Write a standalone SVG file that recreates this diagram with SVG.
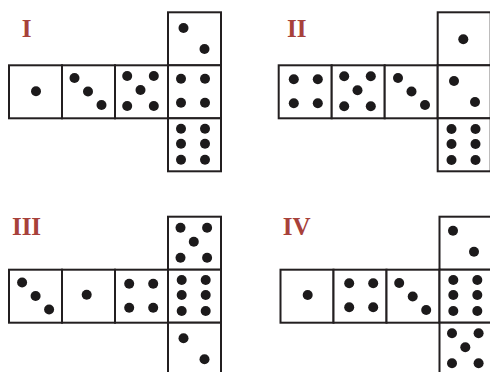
<svg xmlns="http://www.w3.org/2000/svg" xmlns:xlink="http://www.w3.org/1999/xlink" width="490" height="372" viewBox="0 0 490 372">
<style>
.face{fill:#fff;stroke:#231f20;stroke-width:2}
.dot{fill:#1c1a1b}
.lbl{font-family:"Liberation Serif","Times New Roman",serif;font-weight:bold;font-size:25px;fill:#a7413a;text-anchor:middle}
</style>
<defs>
<g id="f1"><circle class="dot" cx="0" cy="0" r="5"/></g>
<g id="f2"><circle class="dot" cx="-10.5" cy="-10.5" r="5"/><circle class="dot" cx="10.5" cy="10.5" r="5"/></g>
<g id="f3"><circle class="dot" cx="-13.5" cy="-13.5" r="5"/><circle class="dot" cx="0" cy="0" r="5"/><circle class="dot" cx="13.5" cy="13.5" r="5"/></g>
<g id="f4"><circle class="dot" cx="-12" cy="-12" r="5"/><circle class="dot" cx="12" cy="-12" r="5"/><circle class="dot" cx="-12" cy="12" r="5"/><circle class="dot" cx="12" cy="12" r="5"/></g>
<g id="f5"><circle class="dot" cx="-13.3" cy="-15" r="5"/><circle class="dot" cx="13.3" cy="-15" r="5"/><circle class="dot" cx="0" cy="-1" r="5"/><circle class="dot" cx="-13.3" cy="15" r="5"/><circle class="dot" cx="13.3" cy="15" r="5"/></g>
<g id="f6"><circle class="dot" cx="-12" cy="-15.5" r="5"/><circle class="dot" cx="12" cy="-15.5" r="5"/><circle class="dot" cx="-12" cy="-0.5" r="5"/><circle class="dot" cx="12" cy="-0.5" r="5"/><circle class="dot" cx="-12" cy="15.5" r="5"/><circle class="dot" cx="12" cy="15.5" r="5"/></g>
</defs>

<g id="net-I">
<text class="lbl" x="26.7" y="36.7">I</text>
<g id="I-top"><rect class="face" x="168" y="12.3" width="53" height="53"/><use xlink:href="#f2" x="194" y="38.5"/></g>
<g id="I-c0"><rect class="face" x="9" y="65.3" width="53" height="53"/><use xlink:href="#f1" x="36" y="91.2"/></g>
<g id="I-c1"><rect class="face" x="62" y="65.3" width="53" height="53"/><use xlink:href="#f3" x="88" y="91.5"/></g>
<g id="I-c2"><rect class="face" x="115" y="65.3" width="53" height="53"/><use xlink:href="#f5" x="140.5" y="91"/></g>
<g id="I-c3"><rect class="face" x="168" y="65.3" width="53" height="53"/><use xlink:href="#f4" x="193" y="90.7"/></g>
<g id="I-bottom"><rect class="face" x="168" y="118.3" width="53" height="53"/><use xlink:href="#f6" x="193" y="144.3"/></g>
</g>

<g id="net-II">
<text class="lbl" x="296.7" y="36.7">II</text>
<g id="II-top"><rect class="face" x="437.7" y="12.3" width="53" height="53"/><use xlink:href="#f1" x="463.3" y="39.3"/></g>
<g id="II-c0"><rect class="face" x="278.7" y="65.3" width="53" height="53"/><use xlink:href="#f4" x="305.8" y="91.3"/></g>
<g id="II-c1"><rect class="face" x="331.7" y="65.3" width="53" height="53"/><use xlink:href="#f5" x="357.5" y="91.2"/></g>
<g id="II-c2"><rect class="face" x="384.7" y="65.3" width="53" height="53"/><use xlink:href="#f3" x="411.5" y="91.5"/></g>
<g id="II-c3"><rect class="face" x="437.7" y="65.3" width="53" height="53"/><use xlink:href="#f2" x="464.5" y="91.5"/></g>
<g id="II-bottom"><rect class="face" x="437.7" y="118.3" width="53" height="53"/><use xlink:href="#f6" x="463.5" y="144.5"/></g>
</g>

<g id="net-III">
<text class="lbl" x="26.5" y="234.7">III</text>
<g id="III-top"><rect class="face" x="168" y="216.7" width="53" height="53"/><use xlink:href="#f5" x="193.8" y="242.7"/></g>
<g id="III-c0"><rect class="face" x="9" y="269.7" width="53" height="53"/><use xlink:href="#f3" x="35.6" y="296"/></g>
<g id="III-c1"><rect class="face" x="62" y="269.7" width="53" height="53"/><use xlink:href="#f1" x="86.7" y="294.7"/></g>
<g id="III-c2"><rect class="face" x="115" y="269.7" width="53" height="53"/><use xlink:href="#f4" x="141.2" y="295.7"/></g>
<g id="III-c3"><rect class="face" x="168" y="269.7" width="53" height="53"/><use xlink:href="#f6" x="193.7" y="295.5"/></g>
<g id="III-bottom"><rect class="face" x="168" y="322.7" width="53" height="53"/><use xlink:href="#f2" x="194" y="348.8"/></g>
</g>

<g id="net-IV">
<text class="lbl" x="296.7" y="234.7">IV</text>
<g id="IV-top"><rect class="face" x="439.5" y="216.7" width="53" height="53"/><use xlink:href="#f2" x="463.5" y="241.3"/></g>
<g id="IV-c0"><rect class="face" x="280.5" y="269.7" width="53" height="53"/><use xlink:href="#f1" x="307.7" y="295"/></g>
<g id="IV-c1"><rect class="face" x="333.5" y="269.7" width="53" height="53"/><use xlink:href="#f4" x="361.2" y="295.3"/></g>
<g id="IV-c2"><rect class="face" x="386.5" y="269.7" width="53" height="53"/><use xlink:href="#f3" x="412.7" y="296.5"/></g>
<g id="IV-c3"><rect class="face" x="439.5" y="269.7" width="53" height="53"/><use xlink:href="#f6" x="465.3" y="295.5"/></g>
<g id="IV-bottom"><rect class="face" x="439.5" y="322.7" width="53" height="53"/><use xlink:href="#f5" x="465.3" y="348.3"/></g>
</g>

<g id="connectors"/>
</svg>
